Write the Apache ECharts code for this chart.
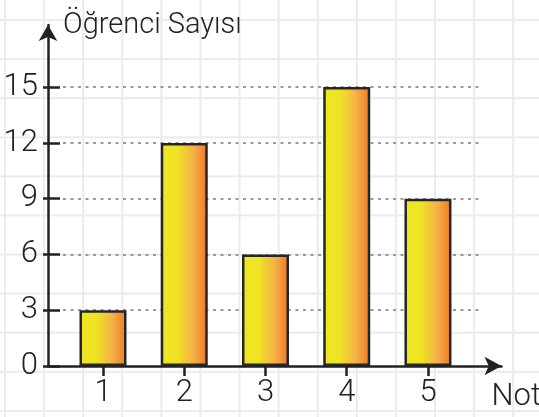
<!DOCTYPE html>
<html>
<head>
<meta charset="utf-8">
<script src="https://cdn.jsdelivr.net/npm/echarts@6/dist/echarts.min.js"></script>
<style>
html, body { margin: 0; padding: 0; }
#chart {
	width: 539px; height: 417px;
	background-color: #fff;
	background-image: linear-gradient(to right, #ebebeb 2px, transparent 2px), linear-gradient(to bottom, #ebebeb 2px, transparent 2px);
	background-size: 39.1px 39.1px;
	background-position: 4px 19px;
}
</style>
</head>
<body>
<div id="chart"></div>
<script>
// veriler
var notlar = [1, 2, 3, 4, 5]
var ogrenciSayisi = [3, 12, 6, 15, 9]
var yTicks = [0, 3, 6, 9, 12, 15]

var chart = echarts.init(document.querySelector('#chart'))

var font = 'Roboto'
var ink = '#222'

option = {
	animation: false,
	grid: [
		{ left: 48, right: 37.5, top: 25, bottom: 51, outerBoundsMode: 'none' },
		// sadece noktalı çizgiler için
		{ left: 63, right: 59, top: 87, bottom: 51, outerBoundsMode: 'none' }
	],
	xAxis: [
		{
			type: 'value',
			gridIndex: 0,
			min: 0.323,
			max: 5.905,
			name: 'Not',
			nameLocation: 'end',
			nameGap: -10,
			nameTextStyle: { color: ink, fontFamily: font, fontWeight: 300, fontSize: 31, align: 'left', verticalAlign: 'top', padding: [16, 0, 0, 0] },
			axisLine: { show: true, symbol: ['none', 'arrow'], symbolSize: [14, 17], lineStyle: { color: ink, width: 2.5 } },
			axisTick: { show: true, length: 10, customValues: notlar, lineStyle: { color: ink, width: 2.5 } },
			axisLabel: { customValues: notlar, color: ink, fontFamily: font, fontWeight: 300, fontSize: 31, margin: 12 },
			splitLine: { show: false }
		},
		{
			type: 'value', gridIndex: 1, min: 0, max: 1, show: false
		}
	],
	yAxis: [
		{
			type: 'value',
			gridIndex: 0,
			min: 0,
			max: 18.34,
			position: 'left',
			name: 'Öğrenci Sayısı',
			nameLocation: 'end',
			nameGap: -1,
			nameTextStyle: { color: ink, fontFamily: font, fontWeight: 300, fontSize: 29, align: 'left', verticalAlign: 'middle', padding: [0, 0, 0, 15] },
			axisLine: { show: true, symbol: ['none', 'arrow'], symbolSize: [14, 16], lineStyle: { color: ink, width: 2.5 } },
			axisTick: { show: true, length: 5, customValues: yTicks, lineStyle: { color: ink, width: 2.5 } },
			axisLabel: { customValues: yTicks, color: ink, fontFamily: font, fontWeight: 300, fontSize: 31, margin: 10 },
			splitLine: { show: false }
		},
		{
			// eksenin içine doğru çentikler
			type: 'value',
			gridIndex: 0,
			min: 0,
			max: 18.34,
			position: 'left',
			axisLine: { show: false },
			axisTick: { show: true, inside: true, length: 12, customValues: yTicks, lineStyle: { color: ink, width: 2.5 } },
			axisLabel: { show: false },
			splitLine: { show: false }
		},
		{
			type: 'value',
			gridIndex: 1,
			min: 0,
			max: 15,
			interval: 3,
			axisLine: { show: false },
			axisTick: { show: false },
			axisLabel: { show: false },
			splitLine: { show: true, showMinLine: false, lineStyle: { color: '#9a9a9a', width: 2, type: [3, 4.5] } }
		}
	],
	series: [
		{
			name: 'Öğrenci Sayısı',
			type: 'bar',
			xAxisIndex: 0,
			yAxisIndex: 0,
			barWidth: 47,
			data: notlar.map(function (n, i) { return [n, ogrenciSayisi[i]] }),
			itemStyle: {
				borderColor: '#262626',
				borderWidth: 2.5,
				color: new echarts.graphic.LinearGradient(0, 0, 1, 0, [
					{ offset: 0, color: '#eee622' },
					{ offset: 0.35, color: '#efe424' },
					{ offset: 0.7, color: '#f5b048' },
					{ offset: 1, color: '#ef7624' }
				])
			}
		}
	]
};

chart.setOption(option)
</script>
</body>
</html>
